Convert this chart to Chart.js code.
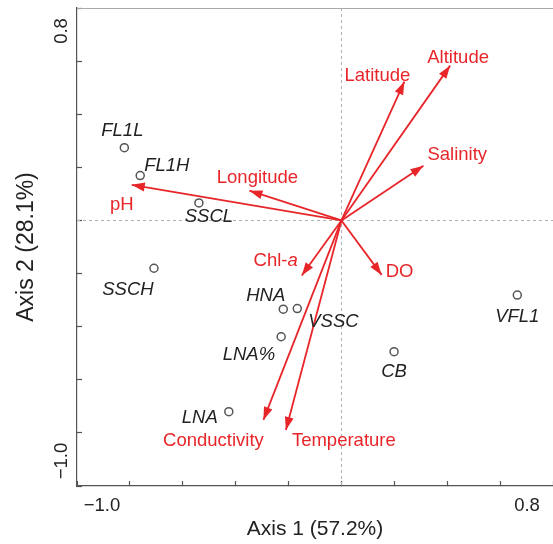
<!DOCTYPE html>
<html>
<head>
<meta charset="utf-8">
<script src="https://cdn.jsdelivr.net/npm/chart.js@4/dist/chart.umd.min.js"></script>
<style>body{margin:0;background:#fff}</style>
</head>
<body>
<canvas id="biplot" width="553" height="544"></canvas>
<script>
// sites (black circles)
const siteNames = ['FL1L', 'FL1H', 'SSCL', 'SSCH', 'HNA', 'VSSC', 'LNA%', 'LNA', 'CB', 'VFL1'];
const siteX = [-0.821, -0.761, -0.539, -0.709, -0.220, -0.167, -0.228, -0.426, 0.199, 0.665];
const siteY = [0.274, 0.169, 0.066, -0.180, -0.334, -0.332, -0.438, -0.720, -0.494, -0.281];

// environmental vectors (red arrows)
const varNames = ['Altitude', 'Latitude', 'Salinity', 'Longitude', 'pH', 'DO', 'Chl-a', 'Conductivity', 'Temperature'];
const varX = [0.411, 0.238, 0.310, -0.348, -0.793, 0.152, -0.150, -0.295, -0.210];
const varY = [0.583, 0.523, 0.206, 0.112, 0.134, -0.205, -0.207, -0.751, -0.789];

const xTickLabels = [-1.0, 0.8];
const yTickLabels = [0.8, -1.0];

const RED = '#e8262a';
const FONT = '"Liberation Sans", Arial, sans-serif';
const LBL = 18.5;

// label placement: [align, dx, dy] from the point / arrow tip (alphabetic baseline)
const siteLabelPos = {
  'FL1L': ['center', -2, -12], 'FL1H': ['left', 4, -5], 'SSCL': ['center', 10, 19],
  'SSCH': ['center', -26, 27], 'HNA': ['right', 2, -8], 'VSSC': ['left', 11, 18],
  'LNA%': ['right', -6, 23], 'LNA': ['right', -11, 11], 'CB': ['center', 0, 25], 'VFL1': ['center', 0, 27]
};
const varLabelPos = {
  'Altitude': ['center', 8, -3], 'Latitude': ['center', -27, -1], 'Salinity': ['left', 4, -6],
  'Longitude': ['center', 8, -8], 'pH': ['center', -10, 25], 'DO': ['left', 4, 2],
  'Chl-a': ['right', -4, -9], 'Conductivity': ['center', -50, 26], 'Temperature': ['left', 6, 16]
};

const sitePoints = siteNames.map((n, i) => ({x: siteX[i], y: siteY[i]}));

const datasets = [{
  label: 'sites',
  data: sitePoints,
  pointRadius: 4,
  pointBorderWidth: 1.5,
  pointBorderColor: '#555',
  pointBackgroundColor: '#fff',
  showLine: false
}];
varNames.forEach((n, i) => {
  datasets.push({
    label: n,
    type: 'line',
    data: [{x: 0, y: 0}, {x: varX[i], y: varY[i]}],
    borderColor: RED,
    borderWidth: 1.8,
    pointRadius: 0,
    fill: false
  });
});

const biplotExtras = {
  id: 'biplotExtras',
  beforeDatasetsDraw(chart) {
    const {ctx, chartArea: a, scales: {x, y}} = chart;
    const x0 = Math.round(x.getPixelForValue(0)) + 0.5;
    const y0 = Math.round(y.getPixelForValue(0)) + 0.5;
    ctx.save();
    ctx.strokeStyle = '#b0b0b0';
    ctx.lineWidth = 1;
    ctx.setLineDash([3, 3]);
    ctx.beginPath();
    ctx.moveTo(x0, a.top); ctx.lineTo(x0, a.bottom);
    ctx.moveTo(a.left, y0); ctx.lineTo(a.right, y0);
    ctx.stroke();
    ctx.setLineDash([]);
    ctx.strokeStyle = '#aaa';
    ctx.beginPath();
    ctx.moveTo(a.left, a.top + 0.5); ctx.lineTo(a.right, a.top + 0.5);
    ctx.stroke();
    ctx.restore();
  },
  afterDatasetsDraw(chart) {
    const {ctx} = chart;
    ctx.save();
    // arrow heads + red labels
    varNames.forEach((n, i) => {
      const meta = chart.getDatasetMeta(i + 1);
      const p0 = meta.data[0], p1 = meta.data[1];
      const ang = Math.atan2(p1.y - p0.y, p1.x - p0.x);
      ctx.save();
      ctx.translate(p1.x, p1.y);
      ctx.rotate(ang);
      ctx.fillStyle = RED;
      ctx.beginPath();
      ctx.moveTo(0, 0); ctx.lineTo(-13, -4.5); ctx.lineTo(-13, 4.5);
      ctx.closePath();
      ctx.fill();
      ctx.restore();

      const [al, dx, dy] = varLabelPos[n];
      ctx.fillStyle = RED;
      ctx.textBaseline = 'alphabetic';
      if (n === 'Chl-a') {
        ctx.font = 'italic ' + LBL + 'px ' + FONT;
        const wa = ctx.measureText('a').width;
        ctx.textAlign = 'right';
        ctx.fillText('a', p1.x + dx, p1.y + dy);
        ctx.font = LBL + 'px ' + FONT;
        ctx.fillText('Chl-', p1.x + dx - wa, p1.y + dy);
      } else {
        ctx.font = LBL + 'px ' + FONT;
        ctx.textAlign = al;
        ctx.fillText(n, p1.x + dx, p1.y + dy);
      }
    });
    // site labels
    const sm = chart.getDatasetMeta(0);
    ctx.font = 'italic ' + LBL + 'px ' + FONT;
    ctx.fillStyle = '#222';
    siteNames.forEach((n, i) => {
      const p = sm.data[i];
      const [al, dx, dy] = siteLabelPos[n];
      ctx.textAlign = al;
      ctx.fillText(n, p.x + dx, p.y + dy);
    });
    ctx.restore();
  },
  afterDraw(chart) {
    const {ctx, scales: {x, y}} = chart;
    const fmt = v => (v < 0 ? '\u2212' : '') + Math.abs(v).toFixed(1);
    ctx.save();
    ctx.font = LBL + 'px ' + FONT;
    ctx.fillStyle = '#222';
    ctx.textAlign = 'center';
    ctx.textBaseline = 'alphabetic';
    xTickLabels.forEach((v, i) => {
      const dx = i === 0 ? 25 : -26;
      ctx.fillText(fmt(v), x.getPixelForValue(v) + dx, x.top + 25);
    });
    yTickLabels.forEach((v, i) => {
      const dy = i === 0 ? 23 : -25;
      ctx.save();
      ctx.translate(y.right - 10, y.getPixelForValue(v) + dy);
      ctx.rotate(-Math.PI / 2);
      ctx.fillText(fmt(v), 0, 0);
      ctx.restore();
    });
    ctx.restore();
  }
};

new Chart(document.getElementById('biplot'), {
  type: 'scatter',
  data: {datasets: datasets},
  plugins: [biplotExtras],
  options: {
    responsive: false,
    devicePixelRatio: 1,
    animation: false,
    layout: {autoPadding: false, padding: {top: 8, right: 0, bottom: 0, left: 0}},
    plugins: {legend: {display: false}, tooltip: {enabled: false}},
    scales: {
      x: {
        type: 'linear', min: -1, max: 0.8,
        ticks: {stepSize: 0.2, display: false},
        grid: {drawOnChartArea: false, drawTicks: true, tickLength: -5, tickColor: '#555', tickWidth: 1.2},
        border: {color: '#555', width: 1.2},
        title: {display: true, text: 'Axis 1 (57.2%)', color: '#222', font: {family: FONT, size: 21}, padding: {top: 0, bottom: 2}},
        afterFit(s) { s.height = 58; }
      },
      y: {
        type: 'linear', min: -1, max: 0.8,
        ticks: {stepSize: 0.2, display: false},
        grid: {drawOnChartArea: false, drawTicks: true, tickLength: -5, tickColor: '#555', tickWidth: 1.2},
        border: {color: '#555', width: 1.2},
        title: {display: true, text: 'Axis 2 (28.1%)', color: '#222', font: {family: FONT, size: 23}, padding: {top: 13, bottom: 0}},
        afterFit(s) { s.width = 77; }
      }
    }
  }
});
</script>
</body>
</html>
